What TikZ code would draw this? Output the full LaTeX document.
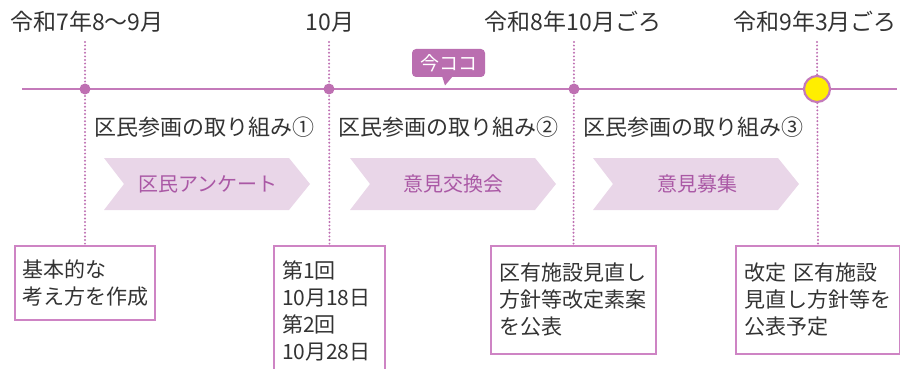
\documentclass[tikz,border=0pt]{standalone}
\usepackage{fontspec}
\setmainfont{Noto Sans CJK JP}
\definecolor{lineC}{RGB}{196,122,186}
\definecolor{dotC}{RGB}{190,112,178}
\definecolor{chevC}{RGB}{233,214,232}
\definecolor{chevT}{RGB}{170,88,165}
\definecolor{callC}{RGB}{186,110,176}
\definecolor{boxC}{RGB}{206,132,196}
\definecolor{txtC}{RGB}{51,51,51}
\definecolor{yelC}{RGB}{255,238,0}
\tikzset{
  topl/.style={text=txtC, font=\fontsize{23}{26}\selectfont, inner sep=0pt},
  headl/.style={text=txtC, font=\fontsize{22}{26}\selectfont, inner sep=0pt, anchor=west},
  chevfill/.style={fill=chevC},
  chevtext/.style={text=chevT, font=\fontsize{20}{24}\selectfont, inner sep=0pt},
  box/.style={draw=boxC, line width=1.2pt, align=left, inner sep=8pt, text=txtC,
    font=\fontsize{21}{27}\selectfont},
  dotline/.style={draw=dotC, line width=2.2pt, line cap=round, dash pattern=on 0pt off 3.6pt},
  tline/.style={draw=lineC, line width=2pt},
  tdot/.style={circle, fill=dotC, inner sep=0pt, minimum size=11pt},
  goal/.style={circle, fill=yelC, draw=lineC, line width=2.2pt, inner sep=0pt, minimum size=26pt},
  callout/.style={fill=callC, rounded corners=4pt, text=white, inner sep=0pt,
    minimum width=73pt, minimum height=28pt, font=\fontsize{19}{22}\selectfont},
}
\begin{document}
\begin{tikzpicture}[x=1pt,y=-1pt]
\useasboundingbox (0,0) rectangle (900,369);
\clip (0,0) rectangle (900,369);
% top labels
\node[topl] (t1) at (87,22) {令和7年8～9月};
\node[topl] (t2) at (330,22) {10月};
\node[topl] (t3) at (573,22) {令和8年10月ごろ};
\node[topl] (t4) at (815,22) {令和9年3月ごろ};
\coordinate (u1) at (85,42);
\coordinate (u2) at (329,42);
\coordinate (u3) at (574,42);
\coordinate (u4) at (817,42);
% boxes
\node[box, minimum width=140pt, minimum height=74pt, text width=124pt] (b1) at (85,283) {基本的な\\考え方を作成};
\node[box, minimum width=111pt, minimum height=130pt, text width=95pt] (b2) at (329.5,311) {第1回\\10月18日\\第2回\\10月28日};
\node[box, minimum width=165pt, minimum height=108pt, text width=149pt] (b3) at (573.5,300) {区有施設見直し\\方針等改定素案\\を公表};
\node[box, minimum width=162pt, minimum height=108pt, text width=148pt] (b4) at (818,300) {改定 区有施設\\見直し方針等を\\公表予定};
% dotted connectors
\draw[dotline] (u1) -- (b1.north);
\draw[dotline] (u2) -- (b2.north);
\draw[dotline] (u3) -- (b3.north);
\draw[dotline] (u4) -- (b4.north);
% timeline
\coordinate (L) at (22,89);
\coordinate (R) at (897,89);
\draw[tline] (L) -- (R);
\node[tdot] (d1) at (85,89) {};
\node[tdot] (d2) at (329,89) {};
\node[tdot] (d3) at (574,89) {};
\node[goal] (d4) at (817,89) {};
% callout
\fill[callC] (442,76) -- (453,76) -- (445,85.5) -- cycle;
\node[callout] (now) at (448.5,63) {今ココ};
% headings
\node[headl] (h1) at (94,127) {区民参画の取り組み①};
\node[headl] (h2) at (338,127) {区民参画の取り組み②};
\node[headl] (h3) at (583,127) {区民参画の取り組み③};
% chevrons
\fill[chevfill] (104,158) -- (289,158) -- (310,184) -- (289,210) -- (104,210) -- (124,184) -- cycle;
\fill[chevfill] (350,158) -- (535,158) -- (556,184) -- (535,210) -- (350,210) -- (370,184) -- cycle;
\fill[chevfill] (593,158) -- (778,158) -- (799,184) -- (778,210) -- (593,210) -- (613,184) -- cycle;
\node[chevtext] (c1) at (208,184) {区民アンケート};
\node[chevtext] (c2) at (453,184) {意見交換会};
\node[chevtext] (c3) at (697,184) {意見募集};
\end{tikzpicture}
\end{document}
